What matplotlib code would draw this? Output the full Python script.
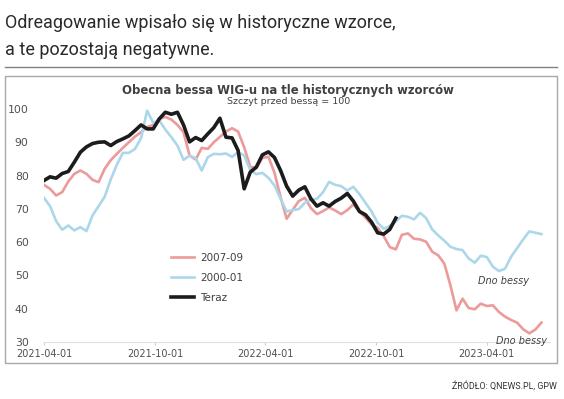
import numpy as np
import pandas as pd
import matplotlib
matplotlib.use("Agg")
import matplotlib.pyplot as plt
import matplotlib.dates as mdates
from matplotlib.patches import Rectangle
from matplotlib.lines import Line2D

# values sampled every 10 days from 2021-04-01 (peak before bear market = 100)
start = "2021-04-01"

teraz = [78.5, 79.6, 79.2, 80.6, 81.2, 84.0, 87.0, 88.6, 89.6, 90.0,
         90.1, 89.0, 90.2, 91.0, 91.9, 93.5, 95.2, 94.0, 94.0, 97.0,
         99.0, 98.4, 99.0, 95.2, 90.1, 91.4, 90.5, 92.5, 94.4, 97.2,
         91.5, 91.3, 87.5, 76.0, 81.0, 82.5, 86.2, 87.1, 85.4, 81.5,
         76.8, 73.8, 75.6, 76.6, 73.0, 70.8, 71.8, 70.8, 72.2, 73.2,
         74.6, 72.3, 69.2, 68.2, 66.0, 62.8, 62.4, 63.8, 67.2]

bessa_2007 = [77.2, 76.0, 74.0, 75.0, 78.2, 80.5, 81.5, 80.5, 78.7, 78.0,
              82.0, 84.6, 86.5, 88.3, 90.0, 91.7, 93.0, 94.6, 95.2, 97.0,
              97.6, 96.8, 95.2, 93.0, 86.0, 84.8, 88.3, 88.0, 90.0, 91.6,
              93.2, 94.2, 93.2, 88.5, 82.6, 82.3, 85.3, 85.6, 80.8, 73.5,
              67.0, 69.7, 72.3, 73.3, 70.2, 68.4, 69.3, 70.4, 69.5, 68.4,
              69.6, 71.3, 69.2, 67.3, 65.3, 64.3, 61.8, 58.5, 57.8, 62.2,
              62.6, 61.0, 60.8, 60.1, 57.1, 56.0, 53.5, 47.0, 39.5, 43.0,
              40.2, 39.8, 41.5, 40.8, 41.0, 39.0, 37.6, 36.6, 35.8, 33.8,
              32.6, 33.7, 35.8]

bessa_2000 = [73.3, 70.8, 66.3, 63.7, 65.0, 63.5, 64.5, 63.3, 68.0, 70.8,
              73.6, 78.8, 83.2, 86.8, 86.8, 88.0, 91.2, 99.5, 95.8, 96.6,
              93.8, 91.5, 89.0, 84.7, 86.0, 85.2, 81.5, 85.5, 86.5, 86.4,
              86.6, 85.6, 87.0, 86.0, 81.7, 80.4, 80.8, 79.3, 77.0, 73.0,
              69.2, 69.6, 69.9, 71.8, 72.8, 73.0, 75.0, 78.1, 77.2, 76.8,
              75.5, 76.6, 74.4, 71.8, 69.2, 65.8, 64.0, 64.8, 66.2, 67.9,
              67.6, 66.8, 68.8, 67.2, 63.8, 62.0, 60.4, 58.6, 57.9, 57.6,
              55.1, 53.8, 55.9, 55.5, 52.6, 51.3, 52.0, 55.6, 58.2, 60.8,
              63.2, 62.8, 62.4]

x_ticks = ["2021-04-01", "2021-10-01", "2022-04-01", "2022-10-01", "2023-04-01"]
y_ticks = [30, 40, 50, 60, 70, 80, 90, 100]

red = "#ec9a9a"
blue = "#acd7eb"
black = "#1c1c1c"
narrow = ["Roboto", "DejaVu Sans"]

fig = plt.figure(figsize=(5.64, 3.99), dpi=100)

# page header
fig.text(0.009, 0.930, "Odreagowanie wpisało się w historyczne wzorce,",
         family=narrow, fontsize=13, color="#2a2a2a", va="baseline")
fig.text(0.009, 0.862, "a te pozostają negatywne.",
         family=narrow, fontsize=13, color="#2a2a2a", va="baseline")
fig.add_artist(Line2D([0.009, 0.988], [0.832, 0.832], color="#808080", lw=1))
fig.add_artist(Rectangle((0.009, 0.090), 0.979, 0.719, fill=False,
                         edgecolor="#a8a8a8", lw=1))
fig.text(0.988, 0.025, "ŹRÓDŁO: QNEWS.PL, GPW", family=narrow, fontsize=6.4,
         color="#333333", ha="right", va="baseline")

ax = fig.add_axes([0.078, 0.143, 0.897, 0.584])

d_teraz = pd.date_range(start, periods=len(teraz), freq="10D")
d_2007 = pd.date_range(start, periods=len(bessa_2007), freq="10D")
d_2000 = pd.date_range(start, periods=len(bessa_2000), freq="10D")

ax.plot(d_2007, bessa_2007, color=red, lw=1.9, label="2007-09")
ax.plot(d_2000, bessa_2000, color=blue, lw=1.9, label="2000-01")
ax.plot(d_teraz, teraz, color=black, lw=2.6, label="Teraz")

ax.set_xlim(pd.Timestamp("2021-04-01"), pd.Timestamp("2023-07-14"))
ax.set_ylim(30, 100)
ax.set_xticks(pd.to_datetime(x_ticks))
ax.xaxis.set_major_formatter(mdates.DateFormatter("%Y-%m-%d"))
ax.set_yticks(y_ticks)

for s in ["top", "right", "left"]:
    ax.spines[s].set_visible(False)
ax.spines["bottom"].set_color("#e0e0e0")
ax.tick_params(axis="x", length=2, color="#d0d0d0", labelsize=7,
               labelcolor="#505050", pad=3)
ax.tick_params(axis="y", length=0, labelsize=7.8, labelcolor="#505050", pad=11)

fig.text(0.511, 0.774, "Obecna bessa WIG-u na tle historycznych wzorców",
         fontsize=8.4, fontweight="bold", color="#404040", ha="center", va="center")
fig.text(0.511, 0.746, "Szczyt przed bessą = 100",
         fontsize=6.8, color="#404040", ha="center", va="center")

ax.legend(loc="upper left", bbox_to_anchor=(0.251, 0.382), frameon=False,
          borderpad=0, borderaxespad=0, fontsize=7.5, handlelength=2.2,
          handletextpad=0.6, labelspacing=0.95, labelcolor="#404040")

ax.text(pd.Timestamp("2023-04-28"), 48.3, "Dno bessy", style="italic",
        fontsize=7, color="#404040", ha="center", va="center")
ax.text(pd.Timestamp("2023-05-28"), 30.2, "Dno bessy", style="italic",
        fontsize=7, color="#404040", ha="center", va="center", clip_on=False)

fig.savefig("out.png", dpi=100)
